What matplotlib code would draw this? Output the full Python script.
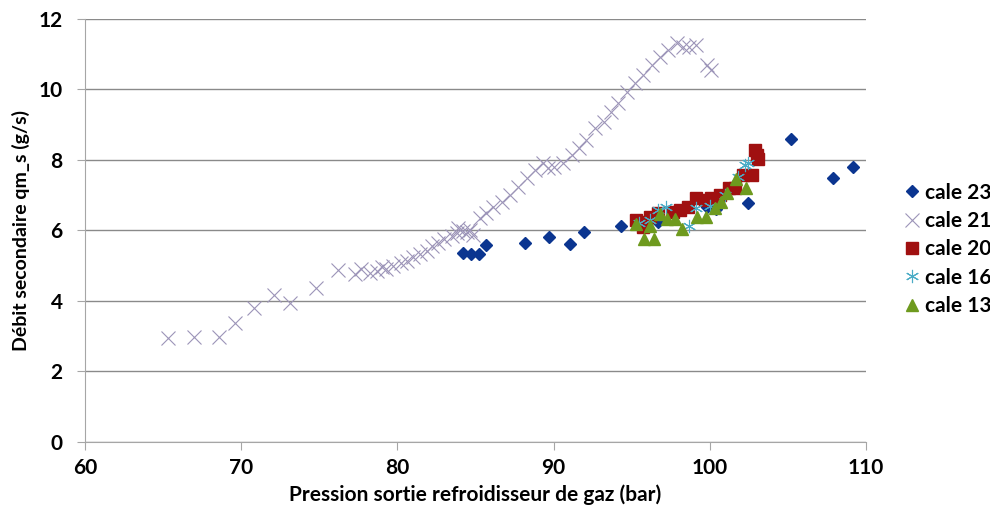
import numpy as np
import matplotlib.pyplot as plt

plt.rcParams['font.family'] = ['Lato', 'DejaVu Sans']
plt.rcParams['font.weight'] = 'bold'

# cale 23
x23 = [84.2, 84.7, 85.2, 85.7, 88.2, 89.7, 91.05, 91.95, 94.3, 96.7, 99.8, 100.4, 102.45, 105.2, 107.9, 109.15]
y23 = [5.34, 5.32, 5.32, 5.58, 5.65, 5.82, 5.60, 5.96, 6.13, 6.24, 6.67, 6.59, 6.76, 8.58, 7.47, 7.78]

# cale 21
x21 = [65.3, 67.0, 68.6, 69.6, 70.8, 72.1, 73.1, 74.8, 76.2, 77.3, 77.7, 78.25, 78.7, 79.0, 79.3,
       79.7, 80.2, 80.6, 81.0, 81.45, 81.9, 82.2, 82.6, 83.0, 83.5, 83.8, 83.9, 84.2, 84.45, 84.65,
       84.85, 85.3, 85.7, 86.15, 86.7, 87.2, 87.75, 88.3, 88.8, 89.35, 89.65, 90.0, 90.6, 91.15,
       91.6, 92.1, 92.65, 93.2, 93.7, 94.15, 94.7, 95.2, 95.75, 96.3, 96.8, 97.35, 97.9, 98.3,
       98.7, 99.15, 99.8, 100.1]
y21 = [2.93, 2.96, 2.98, 3.36, 3.80, 4.16, 3.94, 4.35, 4.87, 4.75, 4.89, 4.79, 4.85, 4.95, 4.89,
       4.98, 5.06, 5.14, 5.23, 5.32, 5.42, 5.55, 5.65, 5.74, 5.84, 5.93, 6.05, 5.98, 5.96, 6.01,
       5.86, 6.34, 6.48, 6.67, 6.81, 7.00, 7.23, 7.47, 7.71, 7.90, 7.76, 7.80, 7.90, 8.13,
       8.32, 8.56, 8.89, 9.08, 9.36, 9.60, 9.93, 10.17, 10.40, 10.69, 10.92, 11.11, 11.30, 11.21,
       11.21, 11.25, 10.69, 10.54]

# cale 20
x20 = [95.3, 95.75, 95.75, 96.2, 96.7, 97.65, 98.1, 98.6, 99.15, 99.7, 100.1, 100.65, 101.2,
       101.6, 102.15, 102.7, 102.9, 103.0, 103.1]
y20 = [6.29, 6.24, 6.10, 6.38, 6.48, 6.53, 6.57, 6.67, 6.90, 6.86, 6.90, 7.00, 7.19,
       7.19, 7.57, 7.57, 8.28, 8.13, 8.01]

# cale 16
x16 = [95.5, 96.2, 96.7, 97.2, 98.7, 99.15, 100.0, 101.0, 101.8, 102.25, 102.45]
y16 = [6.20, 6.30, 6.57, 6.65, 6.12, 6.62, 6.70, 7.00, 7.50, 7.85, 7.90]

# cale 13
x13 = [95.3, 95.8, 96.2, 96.45, 96.8, 97.25, 97.75, 98.2, 99.2, 99.75, 100.35, 100.75, 101.1,
       101.7, 102.35]
y13 = [6.18, 5.74, 6.12, 5.74, 6.46, 6.31, 6.31, 6.03, 6.38, 6.37, 6.62, 6.81, 7.06,
       7.44, 7.19]

fig = plt.figure(figsize=(9.9, 5.11), dpi=100)
ax = fig.add_axes([0.0859, 0.1356, 0.7888, 0.8278])

ax.plot(x23, y23, linestyle='none', marker='D', markersize=6.5, color='#0B3590', label='cale 23')
ax.plot(x21, y21, linestyle='none', marker='x', markersize=9.5, markeredgewidth=0.8,
        color='#9C94B8', label='cale 21')
ax.plot(x20, y20, linestyle='none', marker='s', markersize=8.5, color='#A01010', label='cale 20')
ax.plot(x16, y16, linestyle='none', marker=(6, 2, 0), markersize=9.5, markeredgewidth=0.8,
        color='#4BACC6', label='cale 16')
ax.plot(x13, y13, linestyle='none', marker='^', markersize=8.5, color='#6E9A1E', label='cale 13')

ax.set_xlim(60, 110)
ax.set_ylim(0, 12)
ax.set_xticks(np.arange(60, 111, 10))
ax.set_yticks(np.arange(0, 13, 2))
ax.grid(axis='y', color='#8A8A8A', linewidth=1)
ax.set_axisbelow(True)
for s in ['top', 'right']:
    ax.spines[s].set_visible(False)
for s in ['left', 'bottom']:
    ax.spines[s].set_color('#A6A6A6')
ax.tick_params(axis='both', color='#A6A6A6', length=6, labelsize=15)
ax.tick_params(axis='x', pad=6)
ax.tick_params(axis='y', pad=10)
ax.set_xlabel('Pression sortie refroidisseur de gaz (bar)', fontsize=15, fontweight='bold', labelpad=4)
ax.set_ylabel('Débit secondaire qm_s (g/s)', fontsize=14, fontweight='bold', labelpad=6)

ax.legend(loc='center left', bbox_to_anchor=(1.02, 0.455), frameon=False, fontsize=15,
          handletextpad=0.1, handlelength=1.1, labelspacing=0.4)

plt.savefig('out.png', dpi=100)
